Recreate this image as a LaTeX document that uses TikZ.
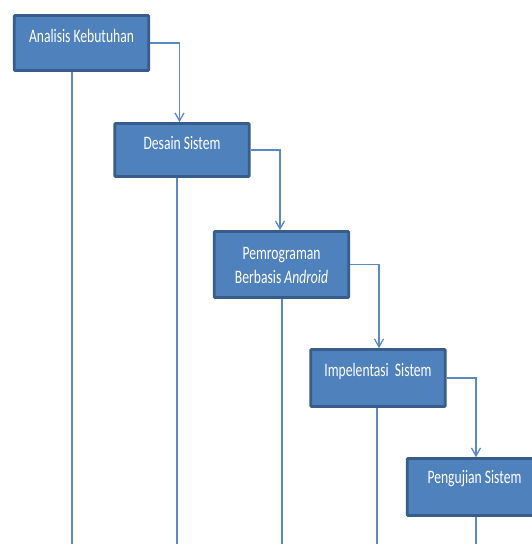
\documentclass[tikz,border=0pt]{standalone}
\usepackage{fontspec}
\setmainfont{Carlito}
\usepackage{graphicx}
\usetikzlibrary{arrows.meta}

\definecolor{boxfill}{HTML}{4F81BD}
\definecolor{boxedge}{HTML}{385D8A}
\definecolor{wire}{HTML}{5A8AC6}

% tall, narrow lettering used for the step names
\newcommand{\tallword}[1]{\scalebox{1}[1.4]{#1}}

\begin{document}
\begin{tikzpicture}[x=1pt, y=-1pt,
  stepbox/.style={draw=boxedge, fill=boxfill, line width=2.6pt,
    minimum width=134.5pt, inner sep=0pt, rounded corners=0.8pt},
  steptext/.style={text=white, anchor=base, inner sep=0pt,
    font=\fontsize{13.6}{16}\selectfont},
  flow/.style={draw=wire, line width=1.5pt,
    -{Straight Barb[length=8pt, width=9pt, line width=1.3pt]}},
  drop/.style={draw=wire, line width=1.5pt}]

\useasboundingbox (0,0) rectangle (532,544);
\clip (0,0) rectangle (532,544);

% process steps
\node[stepbox, minimum height=55pt] (s1) at (81.5,43) {};
\node[stepbox, minimum height=53pt] (s2) at (182,150) {};
\node[stepbox, minimum height=66pt] (s3) at (281.5,264.5) {};
\node[stepbox, minimum height=57pt] (s4) at (378,378) {};
\node[stepbox, minimum height=57pt] (s5) at (474.5,487) {};

% step names
\node[steptext] (t1) at (81.5,42) {\tallword{Analisis Kebutuhan}};
\node[steptext] (t2) at (182,149) {\tallword{Desain Sistem}};
\node[steptext] (t3a) at (281.5,259) {\tallword{Pemrograman}};
\node[steptext] (t3b) at (281.5,283) {\tallword{Berbasis \textit{Android}}};
\node[steptext] (t4) at (378,376) {\tallword{Impelentasi\ \ Sistem}};
\node[steptext] (t5) at (474.5,483) {\tallword{Pengujian Sistem}};

% cascade from each step to the next
\draw[flow] (s1.east) -| ([xshift=-2.5pt]s2.north);
\draw[flow] (s2.east) -| ([xshift=-1.5pt]s3.north);
\draw[flow] (s3.east) -| ([xshift=1pt]s4.north);
\draw[flow] (s4.east) -| ([xshift=1.5pt]s5.north);

% lines running down from each step
\coordinate (e1) at (72,544);
\coordinate (e2) at (177,544);
\coordinate (e3) at (282,544);
\coordinate (e4) at (377,544);
\coordinate (e5) at (476,544);
\draw[drop] (s1.south -| e1) -- (e1);
\draw[drop] (s2.south -| e2) -- (e2);
\draw[drop] (s3.south -| e3) -- (e3);
\draw[drop] (s4.south -| e4) -- (e4);
\draw[drop] (s5.south -| e5) -- (e5);
\end{tikzpicture}
\end{document}
